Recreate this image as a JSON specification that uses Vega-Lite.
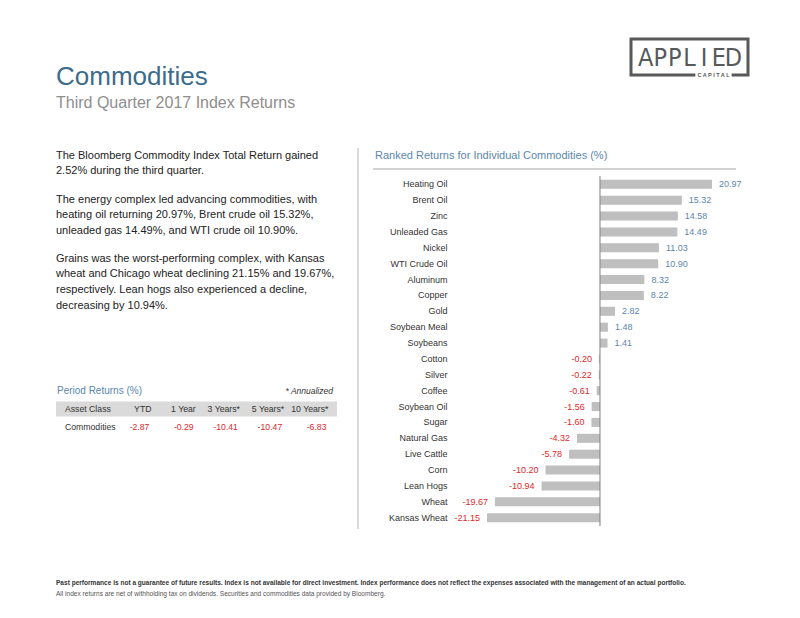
{
  "$schema": "https://vega.github.io/schema/vega-lite/v6.json",
  "background": "white",
  "padding": {"left": 56, "top": 37, "right": 5, "bottom": 5},
  "config": {
    "view": {"stroke": null},
    "font": "Liberation Sans",
    "locale": {"number": {"decimal": ".", "thousands": ",", "grouping": [3], "currency": ["$", ""], "minus": "-"}}
  },
  "spacing": 47,
  "vconcat": [
    {
      "spacing": 36,
      "vconcat": [
        {
          "spacing": 9,
          "hconcat": [
            {
              "width": 564,
              "height": 1,
              "data": {"values": []},
              "mark": "text",
              "encoding": {},
              "title": {
                "text": "Commodities",
                "subtitle": "Third Quarter 2017 Index Returns",
                "orient": "bottom",
                "anchor": "start",
                "offset": 24,
                "fontSize": 26,
                "fontWeight": "normal",
                "color": "#3b6c8e",
                "subtitleFontSize": 16,
                "subtitleColor": "#8e8e8e",
                "subtitlePadding": 5
              }
            },
            {
              "width": 117,
              "height": 36,
              "view": {"stroke": "#58595b", "strokeWidth": 3},
              "layer": [
                {
                  "data": {"values": [
                    {"pos": 1, "ch": "A"}, {"pos": 2, "ch": "P"}, {"pos": 3, "ch": "P"},
                    {"pos": 4, "ch": "L"}, {"pos": 5, "ch": "I"}, {"pos": 6, "ch": "E"}, {"pos": 7, "ch": "D"}
                  ]},
                  "mark": {"type": "text", "fontSize": 25, "font": "DejaVu Sans Condensed, Liberation Sans", "color": "#58595b", "baseline": "middle", "dy": 1},
                  "encoding": {
                    "x": {"field": "pos", "type": "ordinal", "scale": {"type": "point", "padding": 1.03}, "axis": null},
                    "text": {"field": "ch"}
                  }
                },
                {
                  "data": {"values": [{"t": "C A P I T A L"}]},
                  "mark": {"type": "rect", "color": "white"},
                  "encoding": {
                    "x": {"datum": 0.55, "type": "quantitative", "scale": {"domain": [0, 1]}, "axis": null},
                    "x2": {"datum": 0.86},
                    "y": {"datum": -0.09, "type": "quantitative", "scale": {"domain": [0, 1]}, "axis": null},
                    "y2": {"datum": 0.09}
                  }
                },
                {
                  "data": {"values": [{"t": "C A P I T A L"}]},
                  "mark": {"type": "text", "fontSize": 5.5, "fontWeight": "bold", "color": "#58595b", "baseline": "middle"},
                  "encoding": {
                    "x": {"datum": 0.705, "type": "quantitative", "scale": {"domain": [0, 1]}, "axis": null},
                    "y": {"datum": 0, "type": "quantitative", "scale": {"domain": [0, 1]}, "axis": null},
                    "text": {"field": "t"}
                  }
                }
              ],
              "resolve": {"scale": {"x": "independent", "y": "independent"}}
            }
          ]
        },
        {
          "spacing": 13,
          "hconcat": [
            {
              "spacing": 20,
              "hconcat": [
                {
                  "spacing": 68,
                  "vconcat": [
                    {
                      "spacing": 12,
                      "vconcat": [
                        {
                          "width": 281,
                          "height": 31.2,
                          "data": {"values": [
                            {"line": 1, "text": "The Bloomberg Commodity Index Total Return gained"},
                            {"line": 2, "text": "2.52% during the third quarter."}
                          ]},
                          "mark": {"type": "text", "align": "left", "baseline": "middle", "fontSize": 11, "color": "#222222"},
                          "encoding": {
                            "x": {"datum": 0, "type": "quantitative", "scale": {"domain": [0, 1]}, "axis": null},
                            "y": {"field": "line", "type": "ordinal", "scale": {"type": "band", "paddingInner": 0, "paddingOuter": 0}, "axis": null},
                            "text": {"field": "text"}
                          }
                        },
                        {
                          "width": 281,
                          "height": 46.8,
                          "data": {"values": [
                            {"line": 1, "text": "The energy complex led advancing commodities, with"},
                            {"line": 2, "text": "heating oil returning 20.97%, Brent crude oil 15.32%,"},
                            {"line": 3, "text": "unleaded gas 14.49%, and WTI crude oil 10.90%."}
                          ]},
                          "mark": {"type": "text", "align": "left", "baseline": "middle", "fontSize": 11, "color": "#222222"},
                          "encoding": {
                            "x": {"datum": 0, "type": "quantitative", "scale": {"domain": [0, 1]}, "axis": null},
                            "y": {"field": "line", "type": "ordinal", "scale": {"type": "band", "paddingInner": 0, "paddingOuter": 0}, "axis": null},
                            "text": {"field": "text"}
                          }
                        },
                        {
                          "width": 281,
                          "height": 62.4,
                          "data": {"values": [
                            {"line": 1, "text": "Grains was the worst-performing complex, with Kansas"},
                            {"line": 2, "text": "wheat and Chicago wheat declining 21.15% and 19.67%,"},
                            {"line": 3, "text": "respectively. Lean hogs also experienced a decline,"},
                            {"line": 4, "text": "decreasing by 10.94%."}
                          ]},
                          "mark": {"type": "text", "align": "left", "baseline": "middle", "fontSize": 11, "color": "#222222"},
                          "encoding": {
                            "x": {"datum": 0, "type": "quantitative", "scale": {"domain": [0, 1]}, "axis": null},
                            "y": {"field": "line", "type": "ordinal", "scale": {"type": "band", "paddingInner": 0, "paddingOuter": 0}, "axis": null},
                            "text": {"field": "text"}
                          }
                        }
                      ]
                    },
                    {
                      "width": 281,
                      "height": 54,
                      "layer": [
                        {
                          "data": {"values": [{"row": "header"}]},
                          "mark": {"type": "bar", "color": "#dadada", "height": {"band": 0.84}},
                          "encoding": {
                            "y": {"field": "row", "type": "nominal", "scale": {"type": "band", "domain": ["title", "header", "Commodities"], "paddingInner": 0, "paddingOuter": 0}, "axis": null}
                          }
                        },
                        {
                          "data": {"values": [{"row": "title", "col": "Asset Class", "text": "Period Returns (%)"}]},
                          "mark": {"type": "text", "align": "left", "baseline": "middle", "fontSize": 10, "color": "#5a87ad", "dx": -4},
                          "encoding": {
                            "x": {"field": "col", "type": "nominal", "bandPosition": 0, "scale": {"type": "band", "domain": ["Asset Class", "YTD", "1 Year", "3 Years", "5 Years", "10 Years"], "paddingInner": 0, "paddingOuter": 0.175, "align": 0.32}, "axis": null},
                            "y": {"field": "row", "type": "nominal", "axis": null},
                            "text": {"field": "text"}
                          }
                        },
                        {
                          "data": {"values": [{"row": "title", "col": "10 Years", "text": "* Annualized"}]},
                          "mark": {"type": "text", "align": "right", "baseline": "middle", "fontSize": 8.5, "fontStyle": "italic", "color": "#333333", "dx": 6.5},
                          "encoding": {
                            "x": {"field": "col", "type": "nominal", "bandPosition": 1, "axis": null},
                            "y": {"field": "row", "type": "nominal", "axis": null},
                            "text": {"field": "text"}
                          }
                        },
                        {
                          "data": {"values": [
                            {"row": "header", "col": "Asset Class", "text": "Asset Class"},
                            {"row": "Commodities", "col": "Asset Class", "text": "Commodities"}
                          ]},
                          "mark": {"type": "text", "align": "left", "baseline": "middle", "fontSize": 8.7, "color": "#333333", "dx": 4},
                          "encoding": {
                            "x": {"field": "col", "type": "nominal", "bandPosition": 0, "axis": null},
                            "y": {"field": "row", "type": "nominal", "axis": null},
                            "text": {"field": "text"}
                          }
                        },
                        {
                          "data": {"values": [
                            {"row": "header", "col": "YTD", "text": "YTD"},
                            {"row": "header", "col": "1 Year", "text": "1 Year"},
                            {"row": "header", "col": "3 Years", "text": "3 Years*"},
                            {"row": "header", "col": "5 Years", "text": "5 Years*"},
                            {"row": "header", "col": "10 Years", "text": "10 Years*"}
                          ]},
                          "mark": {"type": "text", "align": "right", "baseline": "middle", "fontSize": 8.7, "color": "#333333", "dx": 2},
                          "encoding": {
                            "x": {"field": "col", "type": "nominal", "bandPosition": 1, "axis": null},
                            "y": {"field": "row", "type": "nominal", "axis": null},
                            "text": {"field": "text"}
                          }
                        },
                        {
                          "data": {"values": [
                            {"row": "Commodities", "col": "YTD", "value": -2.87},
                            {"row": "Commodities", "col": "1 Year", "value": -0.29},
                            {"row": "Commodities", "col": "3 Years", "value": -10.41},
                            {"row": "Commodities", "col": "5 Years", "value": -10.47},
                            {"row": "Commodities", "col": "10 Years", "value": -6.83}
                          ]},
                          "mark": {"type": "text", "align": "right", "baseline": "middle", "fontSize": 8.7, "color": "#e0282c"},
                          "encoding": {
                            "x": {"field": "col", "type": "nominal", "bandPosition": 1, "axis": null},
                            "y": {"field": "row", "type": "nominal", "axis": null},
                            "text": {"field": "value", "type": "quantitative", "format": ".2f"}
                          }
                        }
                      ]
                    }
                  ]
                },
                {
                  "width": 1,
                  "height": 381,
                  "data": {"values": [{}]},
                  "mark": {"type": "rule", "color": "#b5b5b5"},
                  "encoding": {
                    "x": {"datum": 0, "type": "quantitative", "scale": {"domain": [0, 1]}, "axis": null}
                  }
                }
              ]
            },
            {
              "spacing": 5,
              "vconcat": [
                {
                  "width": 363,
                  "height": 21,
                  "data": {"values": [{}]},
                  "layer": [
                    {
                      "mark": {"type": "text", "text": "Ranked Returns for Individual Commodities (%)", "align": "left", "baseline": "middle", "fontSize": 11, "color": "#5a87ad", "dx": 2, "dy": -3},
                      "encoding": {
                        "x": {"datum": 0, "type": "quantitative", "scale": {"domain": [0, 1]}, "axis": null}
                      }
                    },
                    {
                      "mark": {"type": "rule", "color": "#a6a6a6"},
                      "encoding": {
                        "y": {"datum": 0, "type": "quantitative", "scale": {"domain": [0, 1]}, "axis": null}
                      }
                    }
                  ]
                },
                {
                  "width": 363,
                  "height": 350,
                  "data": {"values": [
                    {"name": "Heating Oil", "value": 20.97},
                    {"name": "Brent Oil", "value": 15.32},
                    {"name": "Zinc", "value": 14.58},
                    {"name": "Unleaded Gas", "value": 14.49},
                    {"name": "Nickel", "value": 11.03},
                    {"name": "WTI Crude Oil", "value": 10.90},
                    {"name": "Aluminum", "value": 8.32},
                    {"name": "Copper", "value": 8.22},
                    {"name": "Gold", "value": 2.82},
                    {"name": "Soybean Meal", "value": 1.48},
                    {"name": "Soybeans", "value": 1.41},
                    {"name": "Cotton", "value": -0.20},
                    {"name": "Silver", "value": -0.22},
                    {"name": "Coffee", "value": -0.61},
                    {"name": "Soybean Oil", "value": -1.56},
                    {"name": "Sugar", "value": -1.60},
                    {"name": "Natural Gas", "value": -4.32},
                    {"name": "Live Cattle", "value": -5.78},
                    {"name": "Corn", "value": -10.20},
                    {"name": "Lean Hogs", "value": -10.94},
                    {"name": "Wheat", "value": -19.67},
                    {"name": "Kansas Wheat", "value": -21.15}
                  ]},
                  "layer": [
                    {
                      "mark": {"type": "bar", "color": "#bfbfbf"},
                      "encoding": {
                        "x": {"field": "value", "type": "quantitative", "stack": null, "scale": {"domain": [-42.5, 25.47], "nice": false}, "axis": null},
                        "y": {
                          "field": "name", "type": "nominal",
                          "sort": ["Heating Oil", "Brent Oil", "Zinc", "Unleaded Gas", "Nickel", "WTI Crude Oil", "Aluminum", "Copper", "Gold", "Soybean Meal", "Soybeans", "Cotton", "Silver", "Coffee", "Soybean Oil", "Sugar", "Natural Gas", "Live Cattle", "Corn", "Lean Hogs", "Wheat", "Kansas Wheat"],
                          "scale": {"paddingInner": 0.43, "paddingOuter": 0.24},
                          "axis": {"title": null, "orient": "left", "offset": -80, "domain": false, "ticks": false, "tickSize": 0, "labelPadding": 6, "labelFontSize": 9, "labelColor": "#333333", "labelFont": "Liberation Sans"}
                        }
                      }
                    },
                    {
                      "transform": [{"filter": "datum.value >= 0"}],
                      "mark": {"type": "text", "align": "left", "baseline": "middle", "fontSize": 9, "color": "#5d86ab", "dx": 7},
                      "encoding": {
                        "x": {"field": "value", "type": "quantitative"},
                        "y": {
                          "field": "name", "type": "nominal",
                          "sort": ["Heating Oil", "Brent Oil", "Zinc", "Unleaded Gas", "Nickel", "WTI Crude Oil", "Aluminum", "Copper", "Gold", "Soybean Meal", "Soybeans", "Cotton", "Silver", "Coffee", "Soybean Oil", "Sugar", "Natural Gas", "Live Cattle", "Corn", "Lean Hogs", "Wheat", "Kansas Wheat"]
                        },
                        "text": {"field": "value", "type": "quantitative", "format": ".2f"}
                      }
                    },
                    {
                      "transform": [{"filter": "datum.value < 0"}],
                      "mark": {"type": "text", "align": "right", "baseline": "middle", "fontSize": 9, "color": "#e0282c", "dx": -7},
                      "encoding": {
                        "x": {"field": "value", "type": "quantitative"},
                        "y": {
                          "field": "name", "type": "nominal",
                          "sort": ["Heating Oil", "Brent Oil", "Zinc", "Unleaded Gas", "Nickel", "WTI Crude Oil", "Aluminum", "Copper", "Gold", "Soybean Meal", "Soybeans", "Cotton", "Silver", "Coffee", "Soybean Oil", "Sugar", "Natural Gas", "Live Cattle", "Corn", "Lean Hogs", "Wheat", "Kansas Wheat"]
                        },
                        "text": {"field": "value", "type": "quantitative", "format": ".2f"}
                      }
                    },
                    {
                      "data": {"values": [{}]},
                      "mark": {"type": "rule", "color": "#808080"},
                      "encoding": {
                        "x": {"datum": 0, "type": "quantitative"}
                      }
                    }
                  ]
                }
              ]
            }
          ]
        }
      ]
    },
    {
      "width": 700,
      "height": 22,
      "layer": [
        {
          "data": {"values": [{"line": "a", "text": "Past performance is not a guarantee of future results. Index is not available for direct investment. Index performance does not reflect the expenses associated with the management of an actual portfolio."}]},
          "mark": {"type": "text", "align": "left", "baseline": "middle", "fontSize": 6.55, "fontWeight": "bold", "color": "#333333"},
          "encoding": {
            "x": {"datum": 0, "type": "quantitative", "scale": {"domain": [0, 1]}, "axis": null},
            "y": {"field": "line", "type": "nominal", "scale": {"type": "band", "domain": ["a", "b"], "paddingInner": 0, "paddingOuter": 0}, "axis": null},
            "text": {"field": "text"}
          }
        },
        {
          "data": {"values": [{"line": "b", "text": "All index returns are net of withholding tax on dividends. Securities and commodities data provided by Bloomberg."}]},
          "mark": {"type": "text", "align": "left", "baseline": "middle", "fontSize": 6.55, "color": "#555555"},
          "encoding": {
            "x": {"datum": 0, "type": "quantitative"},
            "y": {"field": "line", "type": "nominal"},
            "text": {"field": "text"}
          }
        }
      ]
    }
  ]
}
